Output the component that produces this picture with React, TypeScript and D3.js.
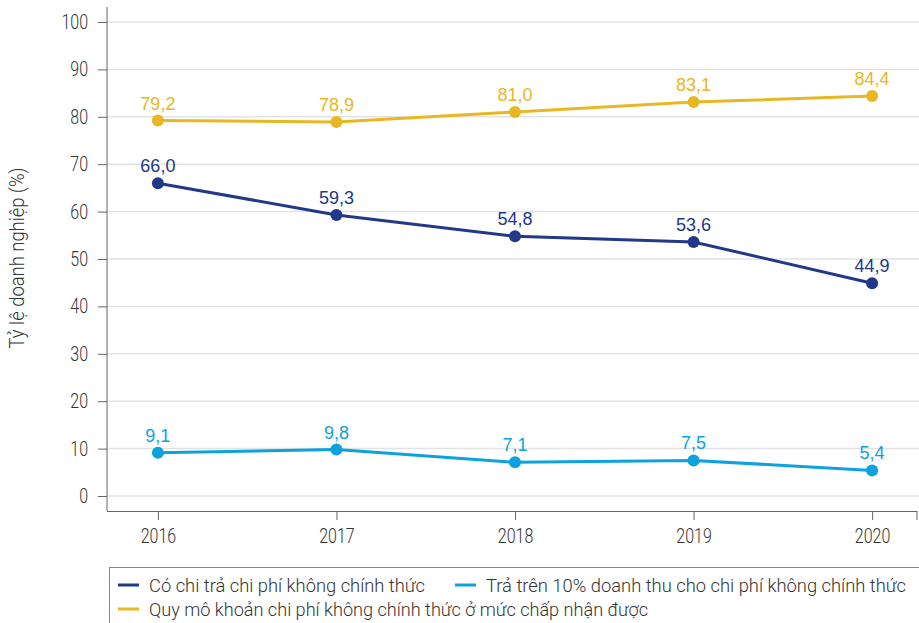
import { useEffect, useRef } from 'react'
import * as d3 from 'd3'

const years = ['2016', '2017', '2018', '2019', '2020']
const informalPaid = [66.0, 59.3, 54.8, 53.6, 44.9]
const over10Pct = [9.1, 9.8, 7.1, 7.5, 5.4]
const acceptable = [79.2, 78.9, 81.0, 83.1, 84.4]
const yTicks = [0, 10, 20, 30, 40, 50, 60, 70, 80, 90, 100]

const seriesNames = [
  'Có chi trả chi phí không chính thức',
  'Trả trên 10% doanh thu cho chi phí không chính thức',
  'Quy mô khoản chi phí không chính thức ở mức chấp nhận được',
]
const seriesColors = ['#22388a', '#0da2de', '#e7b824']

const uiFont = 'Roboto, "Noto Sans", sans-serif'
const labelFont = '"Liberation Sans", Arial, sans-serif'

// squeeze text horizontally to mimic the condensed face of the original
const condense = (sel: any, factor: number) => {
  sel.each(function (this: SVGTextElement) {
    const w = this.getComputedTextLength()
    this.setAttribute('textLength', String(w * factor))
    this.setAttribute('lengthAdjust', 'spacingAndGlyphs')
  })
}

export default function App() {
  const chartRef = useRef<SVGSVGElement>(null)

  useEffect(() => {
    const svg = d3.select(chartRef.current)
    svg.selectAll('*').remove()

    const left = 107
    const right = 917
    const top = 22
    const zeroY = 496
    const axisY = 511

    const x = d3.scalePoint<string>().domain(years).range([left, 923]).padding(0.285)
    const y = d3.scaleLinear().domain([0, 100]).range([zeroY, top])

    // grid
    svg.append('g')
      .selectAll('line')
      .data(yTicks)
      .enter().append('line')
      .attr('x1', left)
      .attr('x2', 919)
      .attr('y1', d => y(d))
      .attr('y2', d => y(d))
      .attr('stroke', '#e3e3e3')
      .attr('stroke-width', 1.5)

    // y axis
    const yAxis = svg.append('g')
      .attr('transform', `translate(${left},0)`)
      .call(d3.axisLeft(y).tickValues(yTicks).tickSize(9).tickPadding(10))
    yAxis.select('.domain').remove()
    yAxis.append('line')
      .attr('x1', 0).attr('x2', 0)
      .attr('y1', 7).attr('y2', axisY)
      .attr('stroke', '#666')
    yAxis.selectAll('.tick line').attr('stroke', '#666')
    yAxis.selectAll('.tick text')
      .attr('fill', '#333')
      .style('font-family', uiFont)
      .style('font-weight', 300)
      .style('font-size', '20px')
      .call(condense, 0.8)

    // x axis
    const xAxis = svg.append('g')
      .attr('transform', `translate(0,${axisY})`)
      .call(d3.axisBottom(x).tickSize(9).tickPadding(9).tickSizeOuter(0))
    xAxis.select('.domain').attr('d', `M${left},0.5H${right}`).attr('stroke', '#666')
    xAxis.selectAll('.tick line').attr('stroke', '#666')
    xAxis.selectAll('.tick text')
      .attr('fill', '#333')
      .style('font-family', uiFont)
      .style('font-weight', 300)
      .style('font-size', '20px')
      .call(condense, 0.8)
    xAxis.append('line')
      .attr('x1', right).attr('x2', right)
      .attr('y1', 0).attr('y2', 9)
      .attr('stroke', '#666')

    svg.append('text')
      .attr('transform', 'rotate(-90)')
      .attr('x', -258)
      .attr('y', 24)
      .attr('text-anchor', 'middle')
      .attr('fill', '#333')
      .attr('textLength', 181)
      .attr('lengthAdjust', 'spacingAndGlyphs')
      .style('font-family', uiFont)
      .style('font-weight', 300)
      .style('font-size', '20px')
      .text('Tỷ lệ doanh nghiệp (%)')

    const allSeries = [informalPaid, over10Pct, acceptable]
    const line = d3.line<number>()
      .x((_, i) => x(years[i]) as number)
      .y(d => y(d))

    allSeries.forEach((values, si) => {
      const color = seriesColors[si]
      const g = svg.append('g')
      g.append('path')
        .datum(values)
        .attr('d', line)
        .attr('fill', 'none')
        .attr('stroke', color)
        .attr('stroke-width', 3)
      g.selectAll('circle')
        .data(values)
        .enter().append('circle')
        .attr('cx', (_, i) => x(years[i]) as number)
        .attr('cy', d => y(d))
        .attr('r', 6)
        .attr('fill', color)
      g.selectAll('text')
        .data(values)
        .enter().append('text')
        .attr('x', (_, i) => x(years[i]) as number)
        .attr('y', d => y(d) - 11)
        .attr('text-anchor', 'middle')
        .attr('fill', color)
        .style('font-family', labelFont)
        .style('font-size', '18px')
        .text(d => d.toFixed(1).replace('.', ','))
    })

    // legend
    const legend = svg.append('g')
    legend.append('rect')
      .attr('x', 109.5)
      .attr('y', 567.5)
      .attr('width', 820)
      .attr('height', 80)
      .attr('fill', 'none')
      .attr('stroke', '#888')
    const items = [
      { x: 118, y: 585, i: 0, w: 276 },
      { x: 455, y: 585, i: 1, w: 420 },
      { x: 118, y: 609, i: 2, w: 499 },
    ]
    items.forEach(it => {
      legend.append('line')
        .attr('x1', it.x).attr('x2', it.x + 21)
        .attr('y1', it.y).attr('y2', it.y)
        .attr('stroke', seriesColors[it.i])
        .attr('stroke-width', 3)
      legend.append('text')
        .attr('x', it.x + 31)
        .attr('y', it.y)
        .attr('dy', '0.35em')
        .attr('fill', '#333')
        .attr('textLength', it.w)
        .attr('lengthAdjust', 'spacingAndGlyphs')
        .style('font-family', uiFont)
        .style('font-weight', 300)
        .style('font-size', '19px')
        .text(seriesNames[it.i])
    })
  }, [])

  return (
    <svg
      ref={chartRef}
      width={919}
      height={623}
      style={{ position: 'absolute', left: 0, top: 0, background: '#fff' }}
    />
  )
}
